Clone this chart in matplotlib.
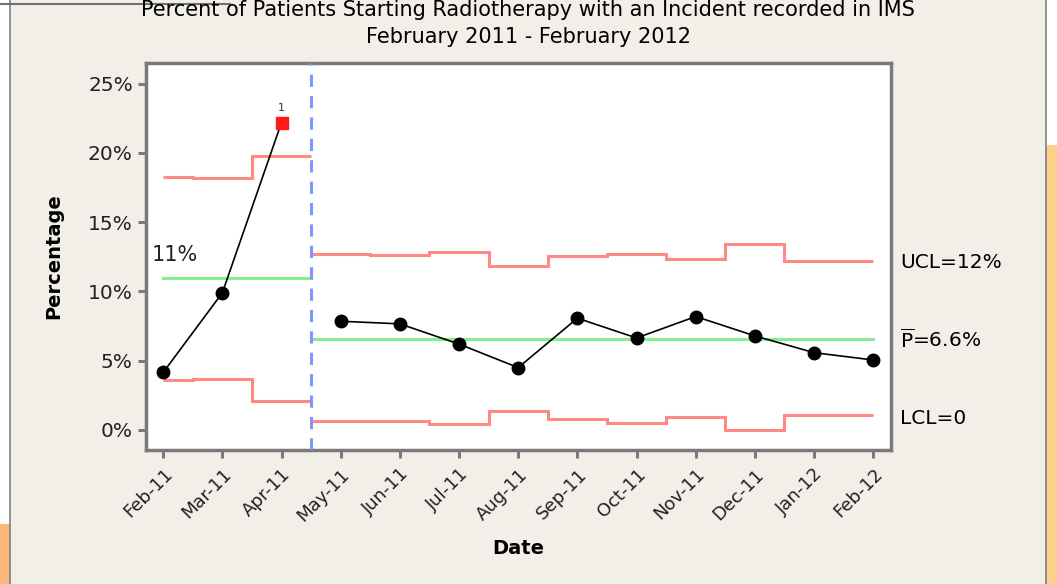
import matplotlib.pyplot as plt
from matplotlib.patches import Rectangle
import numpy as np

# months and the observed percentages
months = ['Feb-11', 'Mar-11', 'Apr-11', 'May-11', 'Jun-11', 'Jul-11', 'Aug-11',
          'Sep-11', 'Oct-11', 'Nov-11', 'Dec-11', 'Jan-12', 'Feb-12']
pct = [4.15, 9.9, 22.2, 7.85, 7.66, 6.2, 4.5, 8.07, 6.64, 8.19, 6.79, 5.58, 5.05]
out_of_control = [2]  # index of the flagged point (Apr-11)

# phase 1 (Feb-Apr 11) limits
ucl_1 = [18.3, 18.16, 19.8]
lcl_1 = [3.62, 3.67, 2.1]
center_1 = 11.0
# phase 2 (May-11 onwards) limits
ucl_2 = [12.73, 12.63, 12.87, 11.84, 12.54, 12.73, 12.34, 13.45, 12.22, 12.22]
lcl_2 = [0.65, 0.65, 0.41, 1.38, 0.77, 0.48, 0.94, 0.0, 1.06, 1.06]
center_2 = 6.57
phase_split = 2.5

yticks = [0, 5, 10, 15, 20, 25]

bg = '#f2eee8'
red = '#ff8a84'
green = '#80f090'
blue = '#8096ff'

fig = plt.figure(figsize=(10.57, 5.84), dpi=100, facecolor=bg)

# window decorations around the chart
fig.patches.append(Rectangle((1046 / 1057, 0), 11 / 1057, 1, transform=fig.transFigure,
                             facecolor='#fdd08a', edgecolor='none', zorder=0))
fig.patches.append(Rectangle((1046 / 1057, 1 - 145 / 584), 11 / 1057, 145 / 584,
                             transform=fig.transFigure, facecolor='white', edgecolor='none', zorder=0))
fig.patches.append(Rectangle((0, 0), 10 / 1057, 60 / 584, transform=fig.transFigure,
                             facecolor='#fbb878', edgecolor='none', zorder=0))
fig.patches.append(Rectangle((0, 60 / 584), 10 / 1057, 1, transform=fig.transFigure,
                             facecolor='white', edgecolor='none', zorder=0))
fig.lines.append(plt.Line2D([10 / 1057, 10 / 1057], [0, 1], transform=fig.transFigure,
                            color='#808080', lw=1.2))
fig.lines.append(plt.Line2D([1046 / 1057, 1046 / 1057], [0, 1], transform=fig.transFigure,
                            color='#808080', lw=1.2))
fig.lines.append(plt.Line2D([0, 230 / 1057], [1 - 4 / 584, 1 - 4 / 584], transform=fig.transFigure,
                            color='#707070', lw=1.5))

ax = fig.add_axes([146 / 1057, 134 / 584, 745 / 1057, 387 / 584])
ax.set_facecolor('white')

x = np.arange(len(months))

# control limits as stairs
edges_1 = [0, 0.5, 1.5, phase_split]
edges_2 = [phase_split] + list(np.arange(3.5, 12, 1.0)) + [12]
for vals, edges in [(ucl_1, edges_1), (lcl_1, edges_1), (ucl_2, edges_2), (lcl_2, edges_2)]:
    ax.stairs(vals, edges, baseline=None, color=red, lw=2.2, zorder=2)
ax.plot([0, phase_split], [center_1, center_1], color=green, lw=2.2, zorder=2)
ax.plot([phase_split, 12], [center_2, center_2], color=green, lw=2.2, zorder=2)

ax.axvline(phase_split, color=blue, lw=2.2, ls=(0, (4, 3)), zorder=3)

# data line: phase 1 and phase 2 are not joined
ax.plot(x[:3], pct[:3], color='black', lw=1.2, zorder=4)
ax.plot(x[3:], pct[3:], color='black', lw=1.2, zorder=4)
ok = [i for i in range(len(pct)) if i not in out_of_control]
ax.plot(x[ok], np.array(pct)[ok], 'o', color='black', ms=9, zorder=5)
for i in out_of_control:
    ax.plot(x[i], pct[i], 's', color='#ff1a1a', ms=8.5, zorder=5)
    ax.text(x[i], pct[i] + 0.7, '1', ha='center', va='bottom', fontsize=8, color='#333333')

ax.text(-0.2, 12.6, '11%', ha='left', va='center', fontsize=15, color='#222222')

ax.set_xlim(-0.29, 12.3)
ax.set_ylim(-1.45, 26.5)
ax.set_yticks(yticks)
ax.set_yticklabels([f'{t}%' for t in yticks], fontsize=14.5, color='#222222')
ax.set_xticks(x)
ax.set_xticklabels(months, rotation=45, ha='right', rotation_mode='anchor', fontsize=13,
                   color='#222222')

for s in ax.spines.values():
    s.set_color('#7a7a7a')
    s.set_linewidth(2.5)
ax.tick_params(axis='both', length=6, width=2.2, color='#7a7a7a', direction='out')
ax.tick_params(axis='x', pad=5)

ax.set_ylabel('Percentage', fontsize=14, fontweight='bold', labelpad=18)
ax.set_xlabel('Date', fontsize=14, fontweight='bold', labelpad=10)

# right-hand annotations
def to_axes(v):
    return (v - (-1.45)) / 27.95

ax.text(1.012, to_axes(12.1), 'UCL=12%', transform=ax.transAxes,
        ha='left', va='center', fontsize=14.5)
ax.text(1.012, to_axes(6.5), r'$\overline{\mathrm{P}}$=6.6%', transform=ax.transAxes,
        ha='left', va='center', fontsize=14.5)
ax.text(1.012, to_axes(0.85), 'LCL=0', transform=ax.transAxes,
        ha='left', va='center', fontsize=14.5)

fig.text(528 / 1057, 1 - 10 / 584, 'Percent of Patients Starting Radiotherapy with an Incident recorded in IMS',
         ha='center', va='center', fontsize=15)
fig.text(528 / 1057, 1 - 37 / 584, 'February 2011 - February 2012',
         ha='center', va='center', fontsize=15)

fig.savefig('out.png', dpi=100, facecolor=bg)
